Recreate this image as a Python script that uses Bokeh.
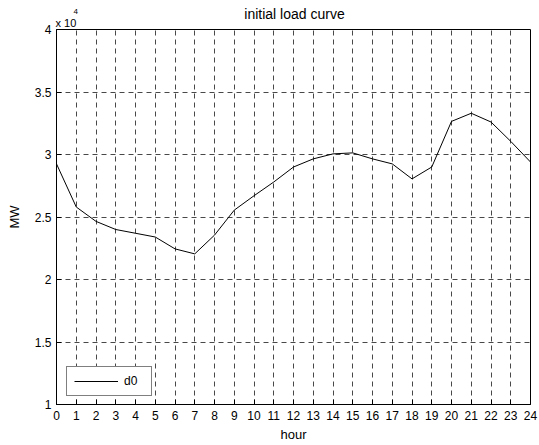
from bokeh.plotting import figure
from bokeh.models import Range1d, FixedTicker, Label, Legend, LegendItem
from bokeh.embed import file_html
from bokeh.resources import INLINE

# Hourly system load (MW)
hours = list(range(25))
load_d0 = [29250, 25800, 24650, 24000, 23700, 23400, 22450, 22050, 23550,
           25550, 26700, 27800, 29000, 29650, 30050, 30130, 29650, 29250,
           28050, 29000, 32650, 33300, 32600, 31050, 29400]

y_ticks = [10000, 15000, 20000, 25000, 30000, 35000, 40000]
y_tick_labels = ["1", "1.5", "2", "2.5", "3", "3.5", "4"]
x_ticks = hours

FONT = "Liberation Sans"

p = figure(width=539, height=445, output_backend="svg", toolbar_location=None,
           x_range=Range1d(0, 24), y_range=Range1d(10000, 40000),
           min_border_left=56, min_border_right=9, min_border_top=29,
           min_border_bottom=41)
p.background_fill_color = "white"
p.border_fill_color = "white"
p.outline_line_color = "black"
p.outline_line_width = 1
p.outline_line_alpha = 1

line = p.line(hours, load_d0, line_color="black", line_width=1)

# axes: ticks inside, MATLAB style
p.xaxis.ticker = FixedTicker(ticks=x_ticks)
p.yaxis.ticker = FixedTicker(ticks=y_ticks)
p.yaxis.major_label_overrides = {t: s for t, s in zip(y_ticks, y_tick_labels)}
for ax in (p.xaxis[0], p.yaxis[0]):
    ax.axis_line_color = "black"
    ax.major_tick_in = 5
    ax.major_tick_out = 0
    ax.minor_tick_line_color = None
    ax.major_tick_line_color = "black"
    ax.major_label_text_font = FONT
    ax.major_label_text_font_size = "12px"
    ax.major_label_text_color = "black"
    ax.axis_label_text_font = FONT
    ax.axis_label_text_font_size = "13px"
    ax.axis_label_text_font_style = "normal"
    ax.axis_label_text_color = "black"
p.xaxis.axis_label = "hour"
p.yaxis.axis_label = "MW"
p.xaxis.major_label_standoff = 6
p.xaxis.axis_label_standoff = 4
p.yaxis.major_label_standoff = 5
p.yaxis.axis_label_standoff = 10

# dashed grid
for g in (p.xgrid[0], p.ygrid[0]):
    g.grid_line_color = "black"
    g.grid_line_dash = "5 4"
    g.grid_line_width = 0.8
    g.grid_line_alpha = 0.9

# axis multiplier "x 10^4" (nearest slot above the frame), then the title
p.add_layout(Label(x=-1, y=7, x_units="screen", y_units="screen",
                   text="x 10", text_align="left",
                   text_baseline="alphabetic", text_font=FONT,
                   text_font_size="11px", text_color="black"), "above")
p.add_layout(Label(x=238, y=4, x_units="screen", y_units="screen",
                   text="initial load curve", text_align="center",
                   text_baseline="alphabetic", text_font=FONT,
                   text_font_size="14px", text_color="black"), "above")
# exponent, kept in the narrow right-hand panel so it takes no space above
p.add_layout(Label(x=-457, y=393, x_units="screen", y_units="screen",
                   text="4", text_align="left",
                   text_baseline="alphabetic", text_font=FONT,
                   text_font_size="8px", text_color="black"), "right")

legend = Legend(items=[LegendItem(label="d0", renderers=[line])],
                location=(10, 8), border_line_color="black", border_line_width=1,
                background_fill_color="white", background_fill_alpha=1,
                glyph_width=44, glyph_height=12, label_height=12,
                padding=7, label_standoff=6, spacing=0, margin=0,
                label_text_font=FONT, label_text_font_size="12px",
                label_text_color="black")
p.add_layout(legend)

open("out.html", "w").write(file_html(p, INLINE))
